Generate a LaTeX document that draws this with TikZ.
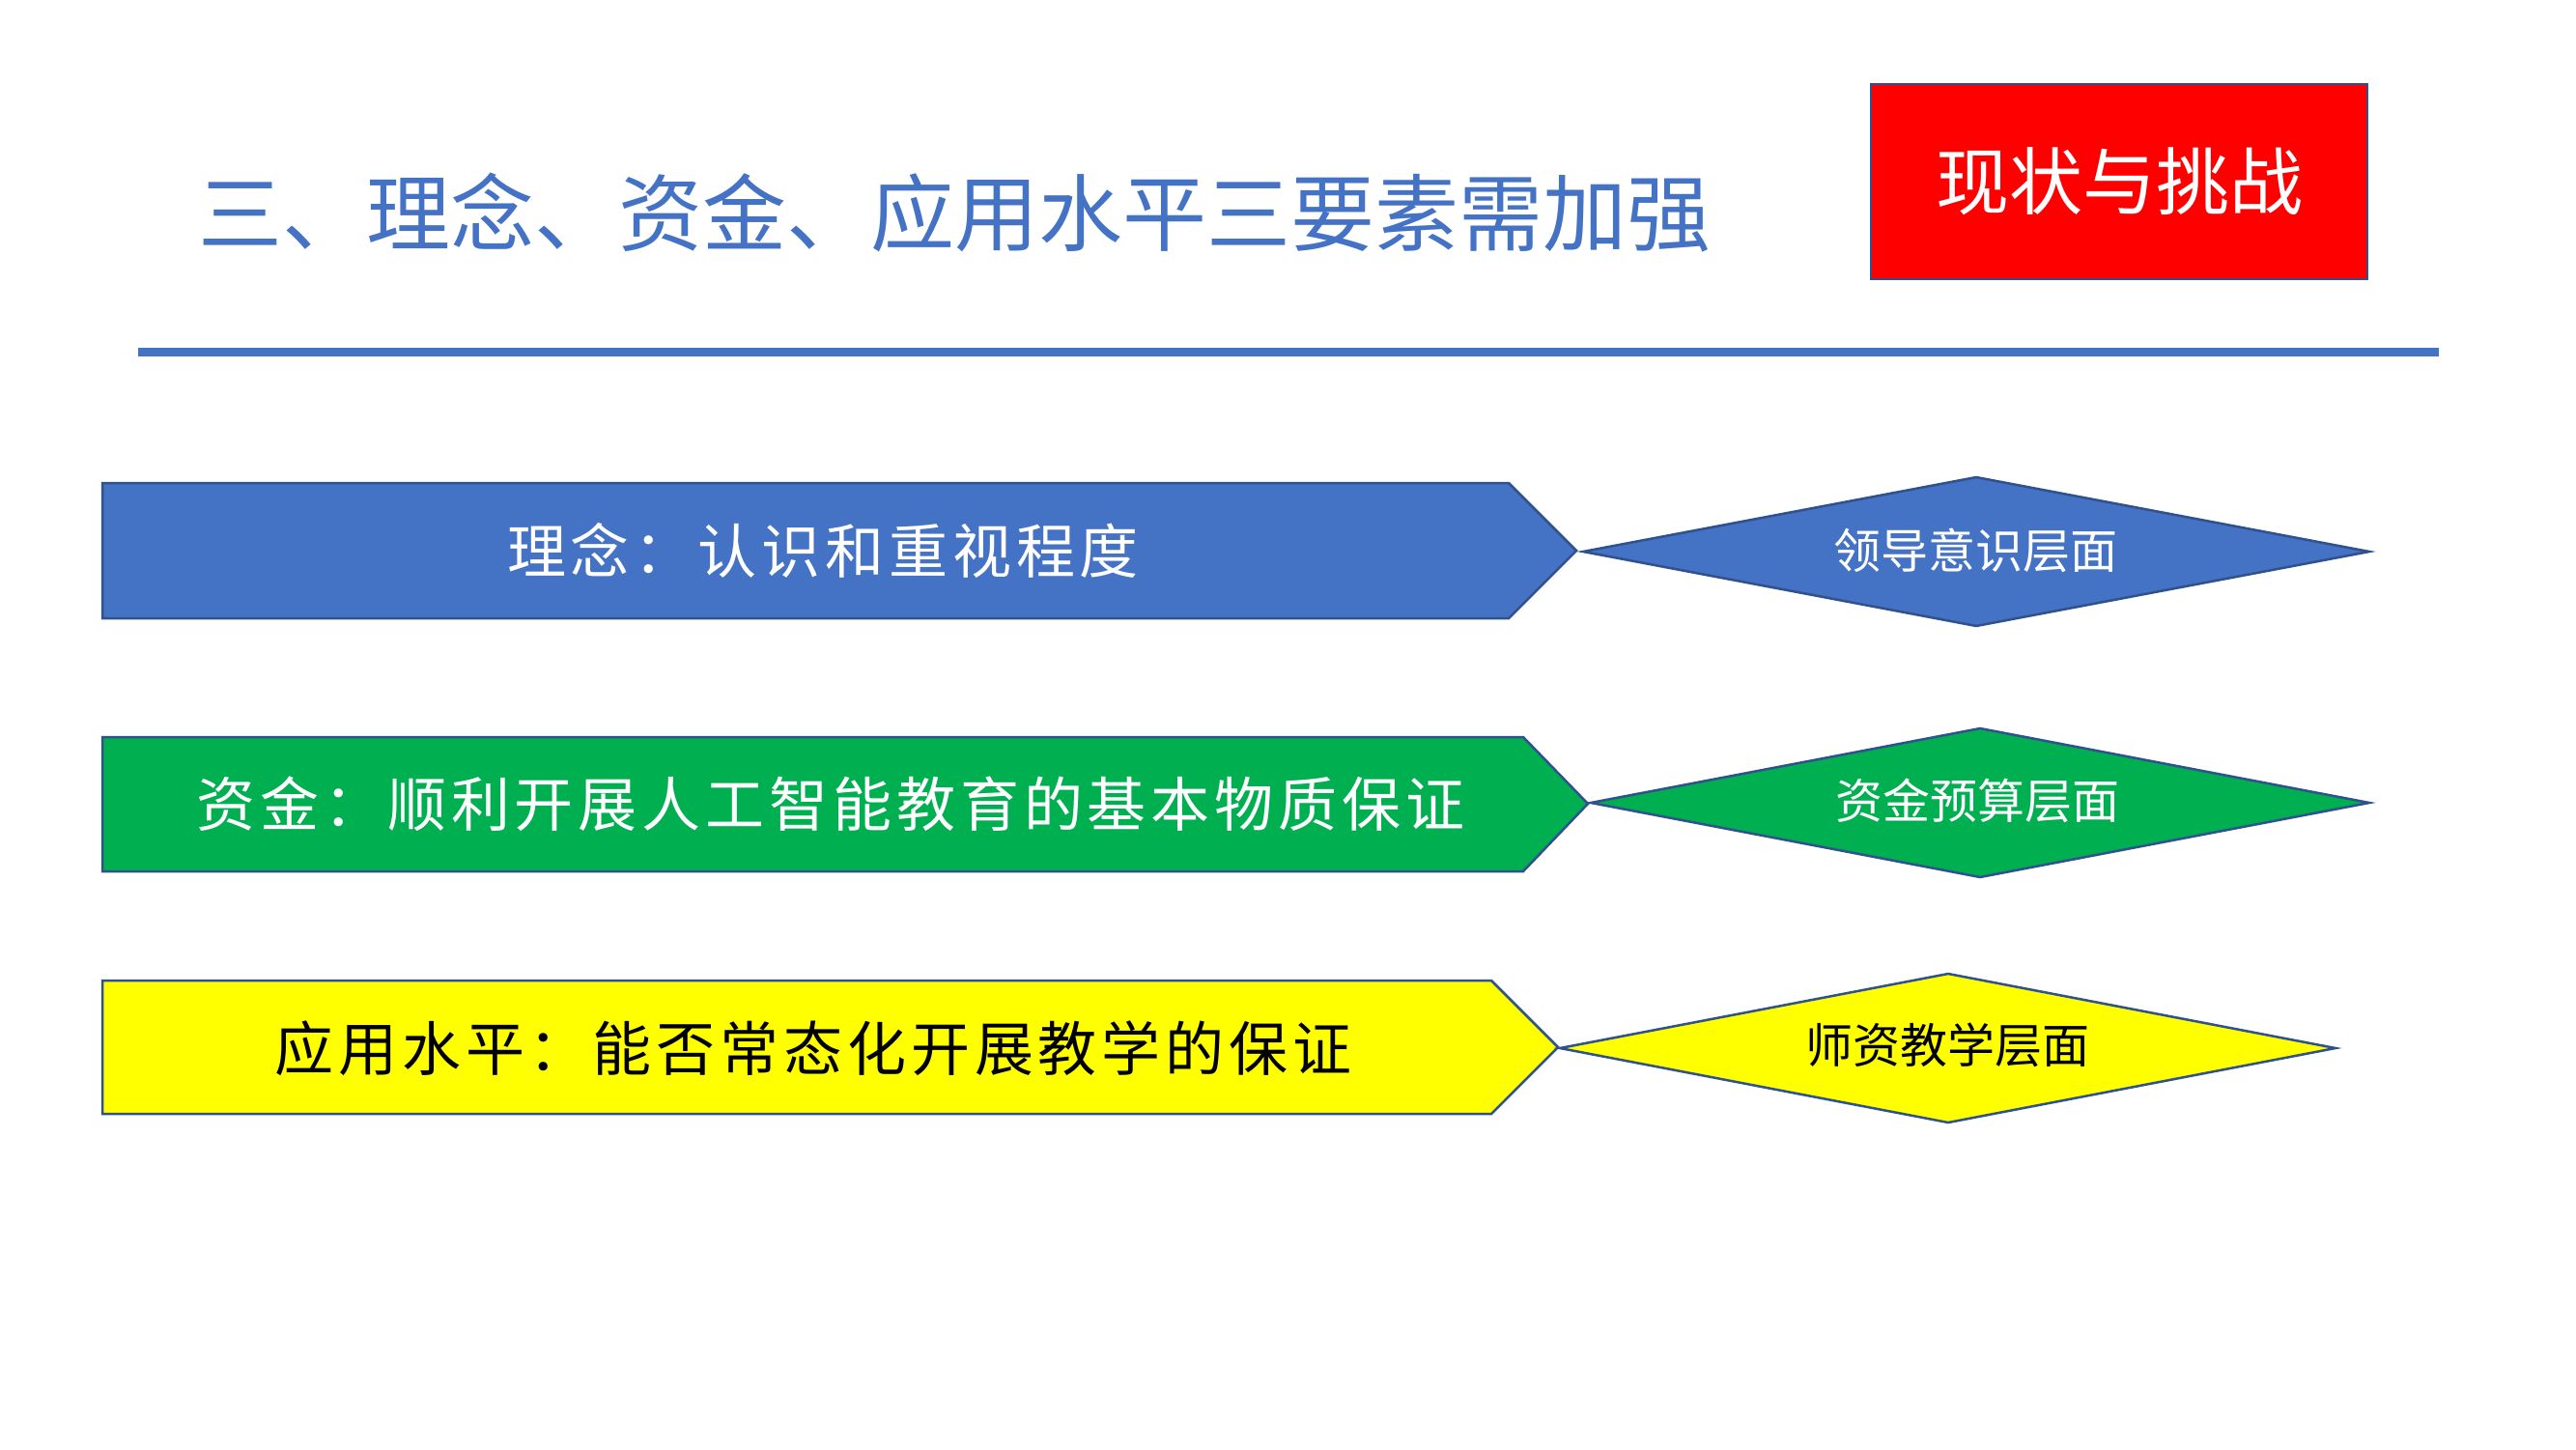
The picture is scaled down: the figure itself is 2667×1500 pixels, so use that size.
\documentclass[tikz,border=0pt]{standalone}
\usepackage{fontspec}
\setmainfont{Noto Sans CJK SC}
\newfontfamily\spacedfont{Noto Sans CJK SC}[LetterSpace=8]
\definecolor{pblue}{HTML}{4472C4}
\definecolor{pgreen}{HTML}{00B050}
\definecolor{pyellow}{HTML}{FFFF00}
\definecolor{pred}{HTML}{FF0000}
\definecolor{pborder}{HTML}{2F528F}
\tikzset{
  shapebox/.style={draw=pborder,line width=2.5pt,line join=miter},
  titletext/.style={inner sep=0pt,text=pblue,font=\fontsize{87}{100}\selectfont},
  badgetext/.style={inner sep=0pt,text=white,font=\fontsize{76}{90}\selectfont},
  arrowtext/.style={inner sep=0pt,font=\spacedfont\fontsize{61}{72}\selectfont},
  diamtext/.style={inner sep=0pt,font=\fontsize{49}{60}\selectfont},
}
\begin{document}
\begin{tikzpicture}[x=1pt,y=-1pt]
\useasboundingbox[fill=white] (0,0) rectangle (2667,1500);

% title
\node[titletext] (title) at (988,220) {三、理念、资金、应用水平三要素需加强};

% badge
\draw[shapebox,fill=pred] (1937,87) rectangle (2451,289);
\node[badgetext] (badge) at (2194,188) {现状与挑战};

% rule line
\coordinate (ruleL) at (143,364);
\coordinate (ruleR) at (2525,364);
\draw[pblue,line width=9pt] (ruleL) -- (ruleR);

% arrow 1
\draw[shapebox,fill=pblue] (106,500) -- (1562,500) -- (1632,570) -- (1562,640) -- (106,640) -- cycle;
\node[arrowtext,text=white] (a1) at (852,570) {理念：认识和重视程度};
\draw[shapebox,fill=pblue] (1639,571) -- (2046,494) -- (2453,571) -- (2046,648) -- cycle;
\node[diamtext,text=white] (d1) at (2045,570) {领导意识层面};

% arrow 2
\draw[shapebox,fill=pgreen] (106,763) -- (1577,763) -- (1644,832) -- (1577,902) -- (106,902) -- cycle;
\node[arrowtext,text=white] (a2) at (860,832) {资金：顺利开展人工智能教育的基本物质保证};
\draw[shapebox,fill=pgreen] (1647,831) -- (2050,754) -- (2453,831) -- (2050,908) -- cycle;
\node[diamtext,text=white] (d2) at (2047,829) {资金预算层面};

% arrow 3
\draw[shapebox,fill=pyellow] (106,1015) -- (1544,1015) -- (1613,1084) -- (1544,1153) -- (106,1153) -- cycle;
\node[arrowtext,text=black] (a3) at (842,1085) {应用水平：能否常态化开展教学的保证};
\draw[shapebox,fill=pyellow] (1615,1085) -- (2017,1008) -- (2418,1085) -- (2017,1162) -- cycle;
\node[diamtext,text=black] (d3) at (2016,1082) {师资教学层面};
\end{tikzpicture}
\end{document}
